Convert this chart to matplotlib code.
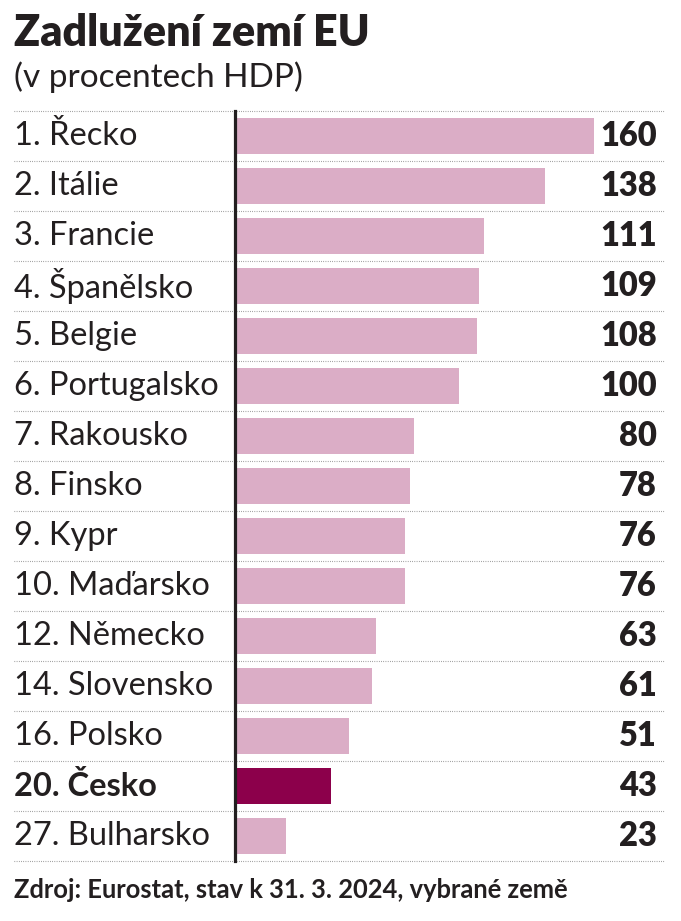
import matplotlib
matplotlib.use('Agg')
import matplotlib.pyplot as plt
import matplotlib.transforms as mtransforms

labels = ['1. Řecko', '2. Itálie', '3. Francie', '4. Španělsko', '5. Belgie',
          '6. Portugalsko', '7. Rakousko', '8. Finsko', '9. Kypr', '10. Maďarsko',
          '12. Německo', '14. Slovensko', '16. Polsko', '20. Česko', '27. Bulharsko']
values = [160, 138, 111, 109, 108, 100, 80, 78, 76, 76, 63, 61, 51, 43, 23]
highlight = '20. Česko'

W, H = 681, 921
text_col = '#231f20'
pink = '#dbadc6'
dark = '#8c004b'

plt.rcParams['font.family'] = ['Lato', 'DejaVu Sans']

fig = plt.figure(figsize=(W / 100, H / 100), dpi=100)
# bar axes: left at the black vertical line, rows between 111 and 861 px
ax = fig.add_axes([234.5 / W, 1 - 861 / H, (665 - 234.5) / W, 750 / H])
ax.set_xlim(0, (665 - 234.5) / 2.247)
ax.set_ylim(len(labels) - 0.5, -0.5)

colors = [dark if l == highlight else pink for l in labels]
ax.barh(range(len(labels)), values, height=0.72, color=colors, zorder=2)

for s in ['top', 'right', 'bottom']:
    ax.spines[s].set_visible(False)
ax.spines['left'].set_linewidth(2.3)
ax.spines['left'].set_color(text_col)
ax.spines['left'].set_zorder(3)
ax.set_xticks([])
ax.set_yticks([])

trans = mtransforms.blended_transform_factory(fig.transFigure, ax.transData)
for i in range(len(labels) + 1):
    ax.plot([14 / W, 665 / W], [i - 0.5, i - 0.5], transform=trans,
            color='#777777', lw=0.8, ls=(0, (0.6, 1.4)), clip_on=False, zorder=1)

for i, (l, v) in enumerate(zip(labels, values)):
    bold = l == highlight
    ax.text(14 / W, i, l, transform=trans, ha='left', va='center',
            fontsize=23.5, color=text_col, fontweight='bold' if bold else 'normal')
    ax.text(657 / W, i, str(v), transform=trans, ha='right', va='center',
            fontsize=23.5, color=text_col, fontweight='heavy')

fig.text(14 / W, 1 - 33 / H, 'Zadlužení zemí EU', ha='left', va='center',
         fontsize=31, fontweight='heavy', color=text_col)
fig.text(14 / W, 1 - 77 / H, '(v procentech HDP)', ha='left', va='center',
         fontsize=24, color=text_col)
fig.text(14 / W, 1 - 890 / H, 'Zdroj: Eurostat, stav k 31. 3. 2024, vybrané země',
         ha='left', va='center', fontsize=18.4, fontweight='bold', color=text_col)

fig.savefig('out.png', dpi=100)
